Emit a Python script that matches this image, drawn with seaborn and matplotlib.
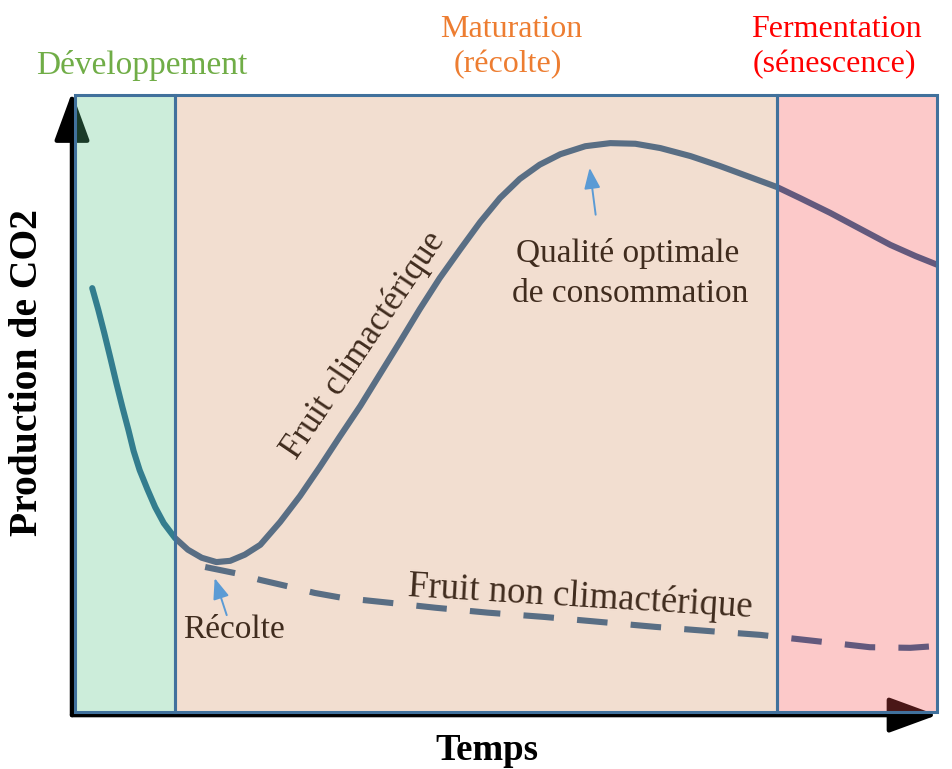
import matplotlib
matplotlib.use("Agg")
import matplotlib.pyplot as plt
from matplotlib.patches import Rectangle
import seaborn as sns

# Phases along the time axis (same 0-100 scale as "Temps")
phase_names = ["Développement", "Maturation\n(récolte)", "Fermentation\n(sénescence)"]
phase_bounds = [0.0, 11.6, 81.4, 100.0]
phase_fill = ["#58C687", "#D79466", "#F84E4E"]
phase_text_color = ["#70AD47", "#ED7D31", "#FF0000"]

# Climacteric fruit: CO2 production over time
clim_t = [2.0, 2.7, 3.4, 4.1, 4.8, 5.5, 6.2, 6.8, 7.5, 8.4, 9.3, 10.3, 11.6,
          13.1, 14.7, 16.4, 18.0, 19.7, 21.5, 23.8, 26.1, 28.4, 30.7, 33.1,
          35.4, 37.7, 40.0, 42.3, 44.7, 47.0, 49.3, 51.6, 53.9, 56.3, 59.2,
          62.1, 65.0, 67.9, 71.4, 74.8, 78.3, 81.4, 84.1, 87.6, 91.1, 94.6,
          97.5, 100.0]
clim_co2 = [68.7, 65.2, 61.4, 57.4, 53.3, 49.4, 45.7, 42.3, 39.2, 36.1, 33.2,
            30.6, 28.2, 26.3, 25.0, 24.3, 24.5, 25.5, 27.1, 30.8, 35.0, 39.7,
            44.6, 49.6, 54.8, 60.0, 65.3, 70.3, 75.0, 79.4, 83.3, 86.4, 88.7,
            90.4, 91.7, 92.2, 92.1, 91.4, 90.1, 88.5, 86.7, 85.1, 83.3, 80.9,
            78.3, 75.7, 73.9, 72.5]

# Non-climacteric fruit: CO2 production after harvest
nonclim_t = [15.1, 18.6, 21.5, 24.9, 27.8, 31.0, 36.5, 41.8, 47.9, 54.5, 60.9,
             67.3, 73.7, 79.5, 81.4, 85.9, 92.2, 96.9, 100.0]
nonclim_co2 = [23.5, 22.5, 21.4, 20.3, 19.3, 18.5, 17.7, 16.9, 16.1, 15.4, 14.6,
               13.8, 13.1, 12.5, 12.2, 11.5, 10.5, 10.4, 10.7]

sns.set_theme(style="white")
plt.rcParams["font.family"] = ["Liberation Serif", "DejaVu Serif"]

W, H = 952, 769
fig = plt.figure(figsize=(W / 100, H / 100), dpi=100)
fig.patch.set_facecolor("white")
ax = fig.add_axes([75 / W, 1 - 712 / H, 862 / W, 617 / H])
ax.set_xlim(0, 100)
ax.set_ylim(0, 100)
ax.axis("off")

curve_color = "#245E92"
sns.lineplot(x=clim_t, y=clim_co2, ax=ax, sort=False, estimator=None,
             color=curve_color, linewidth=4.4, solid_capstyle="round",
             solid_joinstyle="round", zorder=2)
sns.lineplot(x=nonclim_t, y=nonclim_co2, ax=ax, sort=False, estimator=None,
             color=curve_color, linewidth=4.4, zorder=2)
ax.lines[-1].set_linestyle((0, (5, 3.8)))
ax.lines[-1].set_dash_capstyle("butt")

# Curve labels (drawn under the translucent phase panels)
txt = dict(color="black", zorder=3)
ax.text(33.5, 59.5, "Fruit climactérique", rotation=56, ha="center", va="center",
        rotation_mode="anchor", fontsize=25, **txt)
ax.text(58.6, 18.7, "Fruit non climactérique", rotation=-3.5, ha="center",
        va="center", rotation_mode="anchor", fontsize=26.5, **txt)
ax.text(18.45, 12.0, "Récolte", ha="center", va="baseline", fontsize=24, **txt)
ax.text(64.1, 72.9, "Qualité optimale", ha="center", va="baseline",
        fontsize=24, **txt)
ax.text(64.4, 66.5, "de consommation", ha="center", va="baseline",
        fontsize=24, **txt)

# Axis arrows
arrow_kw = dict(arrowstyle="-|>,head_length=1.5,head_width=0.55", mutation_scale=20,
                lw=3.2, color="black", shrinkA=0, shrinkB=0)
ax.annotate("", xy=(-0.35, 100.4), xytext=(-0.35, -0.5), arrowprops=arrow_kw,
            annotation_clip=False, zorder=3)
ax.annotate("", xy=(100.0, -0.5), xytext=(-0.35, -0.5), arrowprops=arrow_kw,
            annotation_clip=False, zorder=3)

# Translucent phase panels
for i in range(3):
    x0, x1 = phase_bounds[i], phase_bounds[i + 1]
    fc = matplotlib.colors.to_rgba(phase_fill[i], 0.3)
    ax.add_patch(Rectangle((x0, 0), x1 - x0, 100, facecolor=fc,
                           edgecolor="#41719C", linewidth=2.2, zorder=4,
                           clip_on=False))

# Pointer arrows
ptr = dict(arrowstyle="-|>,head_length=0.9,head_width=0.35", mutation_scale=14,
           lw=1.4, color="#5B9BD5", shrinkA=0, shrinkB=0)
ax.annotate("", xy=(16.2, 21.7), xytext=(17.6, 15.7), arrowprops=ptr, zorder=5)
ax.annotate("", xy=(59.7, 88.2), xytext=(60.4, 80.6), arrowprops=ptr, zorder=5)

# Phase titles
fig.text(141.5 / W, 1 - 74 / H, phase_names[0], color=phase_text_color[0],
         ha="center", va="baseline", fontsize=24)
fig.text(511 / W, 1 - 37 / H, "Maturation", color=phase_text_color[1],
         ha="center", va="baseline", fontsize=23)
fig.text(508 / W, 1 - 72 / H, "(récolte)", color=phase_text_color[1],
         ha="center", va="baseline", fontsize=23)
fig.text(836 / W, 1 - 37 / H, "Fermentation", color=phase_text_color[2],
         ha="center", va="baseline", fontsize=23)
fig.text(834 / W, 1 - 72 / H, "(sénescence)", color=phase_text_color[2],
         ha="center", va="baseline", fontsize=23)

# Axis titles
fig.text(487 / W, 1 - 760 / H, "Temps", ha="center", va="baseline",
         fontsize=26.5, fontweight="bold", color="black")
fig.text(28 / W, 1 - 372 / H, "Production de CO2", ha="center", va="center",
         rotation=90, fontsize=28.5, fontweight="bold", color="black")

fig.savefig("out.png", dpi=100, facecolor="white")
